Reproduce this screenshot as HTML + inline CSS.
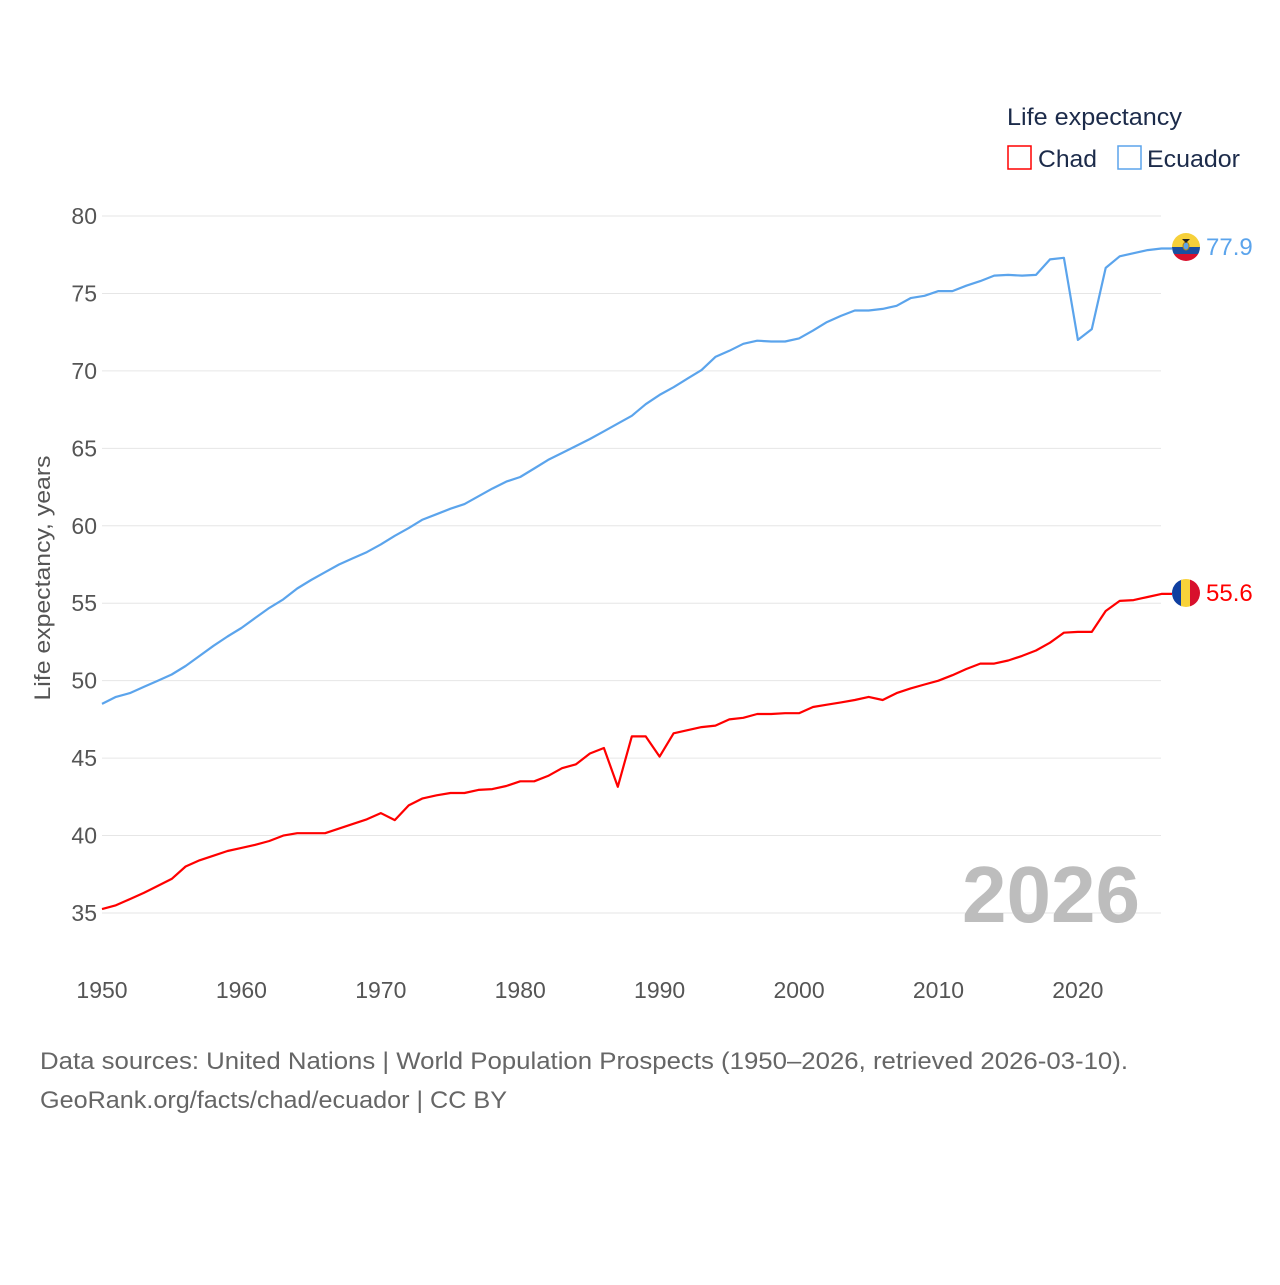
<!DOCTYPE html>
<html><head><meta charset="utf-8"><style>
body{margin:0;background:#fff;}
svg text{font-family:"Liberation Sans",sans-serif;}
</style></head><body>
<svg id="chart" width="1280" height="1280" viewBox="0 0 1280 1280" xmlns="http://www.w3.org/2000/svg">
<defs>
<clipPath id="cEc"><circle cx="1186" cy="247" r="14"/></clipPath>
<clipPath id="cTd"><circle cx="1186" cy="593" r="14"/></clipPath>
</defs>
<g id="grid"></g>
<g id="yticks"></g>
<g id="xticks"></g>
<text transform="translate(50,578) rotate(-90)" text-anchor="middle" font-size="22" fill="#555" textLength="245" lengthAdjust="spacingAndGlyphs">Life expectancy, years</text>
<text x="1140" y="922" text-anchor="end" font-size="80" font-weight="bold" fill="#bdbdbd">2026</text>
<g id="lines"></g>
<g>
<text x="1007" y="125" font-size="24" fill="#1c2b4a" textLength="175" lengthAdjust="spacingAndGlyphs">Life expectancy</text>
<g><rect x="1008" y="146" width="23" height="23" fill="none" stroke="#ff0000" stroke-width="1.5"/><text x="1038" y="167" font-size="24" fill="#1c2b4a" textLength="59" lengthAdjust="spacingAndGlyphs">Chad</text></g>
<g><rect x="1118" y="146" width="23" height="23" fill="none" stroke="#5ba4ec" stroke-width="1.5"/><text x="1147" y="167" font-size="24" fill="#1c2b4a" textLength="93" lengthAdjust="spacingAndGlyphs">Ecuador</text></g>
</g>
<g clip-path="url(#cEc)">
<rect x="1172" y="233" width="28" height="14" fill="#f6d03a"/><rect x="1172" y="247" width="28" height="7" fill="#1a4fa0"/><rect x="1172" y="254" width="28" height="7" fill="#d8102c"/>
<ellipse cx="1186" cy="246" rx="3" ry="4" fill="#5ba4ec" stroke="#b8860b"/><path d="M1182 239 L1190 239 L1186 243Z" fill="#222"/>
</g>
<g clip-path="url(#cTd)">
<rect x="1172" y="579" width="10" height="28" fill="#0f3fa0"/><rect x="1181" y="579" width="10" height="28" fill="#f8d23a"/><rect x="1190" y="579" width="10" height="28" fill="#d8102c"/>
</g>
<text x="1206" y="255" font-size="24" fill="#5ba4ec">77.9</text>
<text x="1206" y="601" font-size="24" fill="#ff0000">55.6</text>
<text x="40" y="1069" font-size="24" fill="#666" textLength="1088" lengthAdjust="spacingAndGlyphs">Data sources: United Nations | World Population Prospects (1950–2026, retrieved 2026-03-10).</text>
<text x="40" y="1108" font-size="24" fill="#666" textLength="467" lengthAdjust="spacingAndGlyphs">GeoRank.org/facts/chad/ecuador | CC BY</text>
</svg>
<script>
const years = [];
for (let y = 1950; y <= 2026; y++) years.push(y);
const yTicks = [35,40,45,50,55,60,65,70,75,80];
const xTicks = [1950,1960,1970,1980,1990,2000,2010,2020];
const ecuador = [48.5,48.95,49.2,49.6,50.0,50.4,50.95,51.6,52.25,52.85,53.4,54.05,54.7,55.25,55.95,56.5,57.0,57.5,57.9,58.3,58.8,59.35,59.85,60.4,60.75,61.1,61.4,61.9,62.4,62.85,63.15,63.7,64.25,64.7,65.15,65.6,66.1,66.6,67.1,67.85,68.45,68.95,69.5,70.05,70.9,71.3,71.75,71.95,71.9,71.9,72.1,72.6,73.15,73.55,73.9,73.9,74.0,74.2,74.7,74.85,75.15,75.15,75.5,75.8,76.15,76.2,76.15,76.2,77.2,77.3,72.0,72.7,76.65,77.4,77.6,77.8,77.9];
const chad = [35.25,35.5,35.9,36.3,36.75,37.2,38.0,38.4,38.7,39.0,39.2,39.4,39.65,40.0,40.15,40.15,40.15,40.45,40.75,41.05,41.45,41.0,41.95,42.4,42.6,42.75,42.75,42.95,43.0,43.2,43.5,43.5,43.85,44.35,44.6,45.3,45.65,43.15,46.4,46.4,45.1,46.6,46.8,47.0,47.1,47.5,47.6,47.85,47.85,47.9,47.9,48.3,48.45,48.6,48.75,48.95,48.75,49.2,49.5,49.75,50.0,50.35,50.75,51.1,51.1,51.3,51.6,51.95,52.45,53.1,53.15,53.15,54.5,55.15,55.2,55.4,55.6];
const NS = "http://www.w3.org/2000/svg";
const x = yr => 102 + (yr - 1950) * (1161.5 - 102) / 76;
const y = v => 216 + (80 - v) * (913 - 216) / 45;
const grid = document.getElementById('grid'), yt = document.getElementById('yticks'), xt = document.getElementById('xticks'), lines = document.getElementById('lines');
yTicks.forEach(t => {
  const l = document.createElementNS(NS, 'line');
  l.setAttribute('x1', 102); l.setAttribute('x2', 1161); l.setAttribute('y1', y(t)); l.setAttribute('y2', y(t));
  l.setAttribute('stroke', '#e6e6e6'); l.setAttribute('stroke-width', '1');
  
  
  grid.appendChild(l);
  const tx = document.createElementNS(NS, 'text');
  tx.setAttribute('x', 97); tx.setAttribute('y', y(t) + 8); tx.setAttribute('text-anchor', 'end');
  tx.setAttribute('font-size', '23'); tx.setAttribute('fill', '#555');
  tx.textContent = t;
  
  
  yt.appendChild(tx);
});
xTicks.forEach(t => {
  const tx = document.createElementNS(NS, 'text');
  tx.setAttribute('x', x(t)); tx.setAttribute('y', 998); tx.setAttribute('text-anchor', 'middle');
  tx.setAttribute('font-size', '23'); tx.setAttribute('fill', '#555');
  tx.textContent = t;
  
  
  xt.appendChild(tx);
});
function line(data, color, name) {
  const p = document.createElementNS(NS, 'path');
  let d = data.map((v, i) => (i ? 'L' : 'M') + x(years[i]).toFixed(1) + ' ' + y(v).toFixed(1)).join(' ');
  d += ' L1172 ' + y(data[data.length - 1]).toFixed(1);
  p.setAttribute('d', d); p.setAttribute('fill', 'none'); p.setAttribute('stroke', color);
  p.setAttribute('stroke-width', '2.2'); p.setAttribute('stroke-linejoin', 'round');
  
  
  lines.appendChild(p);
}
line(ecuador, '#5ba4ec', 'ecuador-line');
line(chad, '#ff0000', 'chad-line');
</script>
</body></html>
